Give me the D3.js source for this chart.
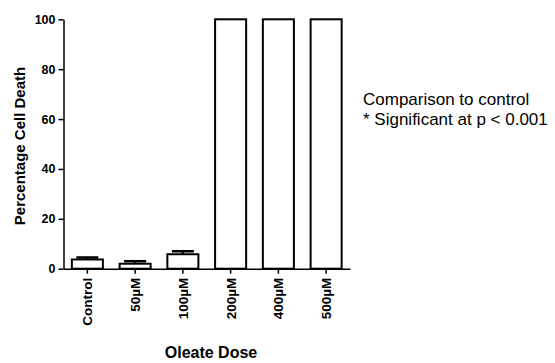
<!DOCTYPE html>
<html>
<head>
<meta charset="utf-8">
<script src="https://cdn.jsdelivr.net/npm/d3@7"></script>
<style>
  body { margin: 0; background: #fff; }
  text { font-family: "Liberation Sans", Arial, sans-serif; }
</style>
</head>
<body>
<svg id="chart" width="555" height="363"></svg>
<script>
const categories = ["Control", "50\u00B5M", "100\u00B5M", "200\u00B5M", "400\u00B5M", "500\u00B5M"];
const means = [3.7, 2.0, 5.8, 100, 100, 100];
const errors = [0.8, 1.0, 1.2, 0, 0, 0];
const yTicks = [0, 20, 40, 60, 80, 100];
const legendLines = ["Comparison to control", "* Significant at p < 0.001"];

const svg = d3.select("#chart");
const x = d3.scaleBand().domain(categories).range([63.5, 350]).paddingInner(0.35).paddingOuter(0.175);
const y = d3.scaleLinear().domain([0, 100]).range([268.7, 19.3]);

// bars
svg.append("g").selectAll("rect").data(categories).join("rect")
  .attr("x", d => x(d))
  .attr("width", x.bandwidth())
  .attr("y", (d, i) => y(means[i]))
  .attr("height", (d, i) => y(0) - y(means[i]))
  .attr("fill", "#fff").attr("stroke", "#000").attr("stroke-width", 2);

// error bars
const eb = svg.append("g");
categories.forEach((c, i) => {
  if (errors[i] <= 0) return;
  const cx = x(c) + x.bandwidth() / 2;
  eb.append("line").attr("x1", cx).attr("x2", cx)
    .attr("y1", y(means[i])).attr("y2", y(means[i] + errors[i]))
    .attr("stroke", "#000").attr("stroke-width", 2.5);
  eb.append("line").attr("x1", cx - 11).attr("x2", cx + 11)
    .attr("y1", y(means[i] + errors[i])).attr("y2", y(means[i] + errors[i]))
    .attr("stroke", "#000").attr("stroke-width", 2.5);
});

// y axis
const yAxis = svg.append("g").attr("transform", "translate(63.5,0)")
  .call(d3.axisLeft(y).tickValues(yTicks).tickSize(5).tickPadding(3).tickSizeOuter(0));
yAxis.select(".domain").attr("stroke", "#000").attr("stroke-width", 1.5);
yAxis.selectAll(".tick line").attr("stroke", "#000").attr("stroke-width", 1.5);
yAxis.selectAll(".tick text").attr("font-size", 12.5).attr("font-weight", "bold").attr("fill", "#000")
  .attr("font-family", "Liberation Sans, Arial, sans-serif");

// x axis
const xAxis = svg.append("g").attr("transform", "translate(0,268.7)")
  .call(d3.axisBottom(x).tickSize(5).tickSizeOuter(0));
xAxis.select(".domain").attr("stroke", "#000").attr("stroke-width", 1.5);
xAxis.selectAll(".tick line").attr("stroke", "#000").attr("stroke-width", 1.5);
xAxis.selectAll(".tick text")
  .attr("font-size", 13.5).attr("font-weight", "bold").attr("fill", "#000")
  .attr("font-family", "Liberation Sans, Arial, sans-serif")
  .attr("text-anchor", "end")
  .attr("transform", "rotate(-90)")
  .attr("x", -9).attr("y", 0).attr("dy", "0.36em");

// axis titles
svg.append("text").attr("transform", "translate(25,146) rotate(-90)")
  .attr("text-anchor", "middle").attr("font-size", 15).attr("font-weight", "bold")
  .text("Percentage Cell Death");
svg.append("text").attr("x", 211).attr("y", 358)
  .attr("text-anchor", "middle").attr("font-size", 16).attr("font-weight", "bold")
  .text("Oleate Dose");

// legend text
svg.append("g").selectAll("text").data(legendLines).join("text")
  .attr("x", 363).attr("y", (d, i) => 105 + i * 19.5)
  .attr("font-size", 17)
  .text(d => d);
</script>
</body>
</html>
